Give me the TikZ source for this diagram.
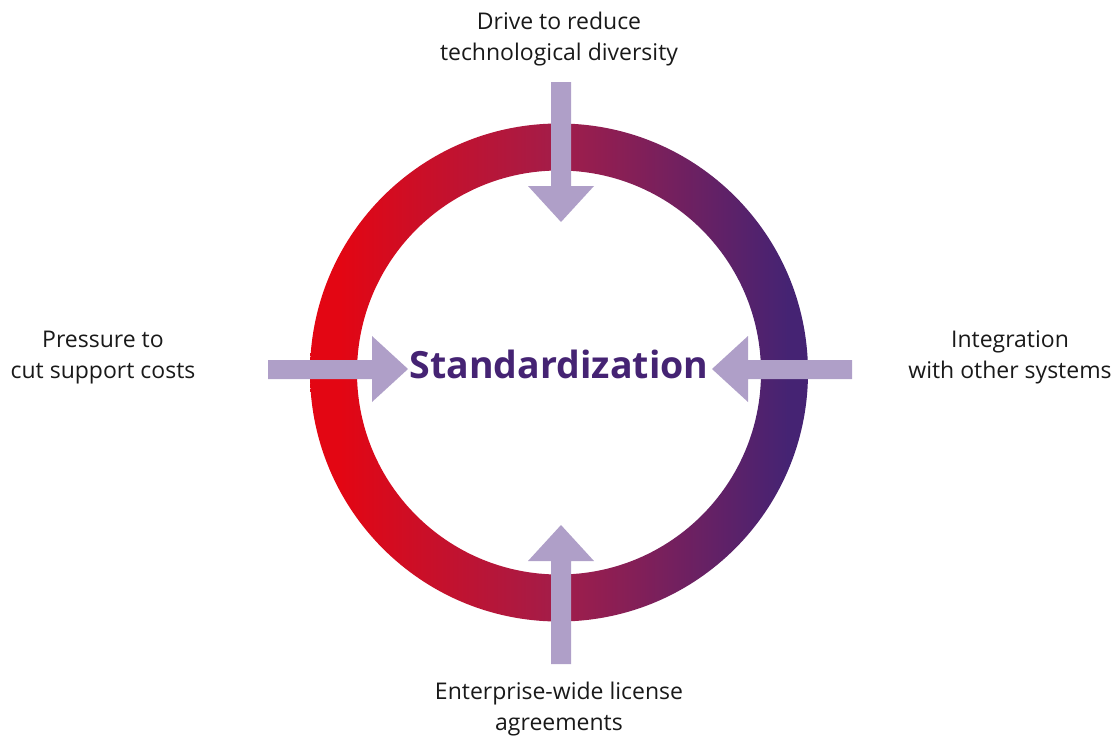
\documentclass[tikz,border=0pt]{standalone}
\usepackage{fontspec}
\setmainfont{Open Sans}
\definecolor{ringred}{HTML}{E30613}
\definecolor{ringmid}{HTML}{A21D4A}
\definecolor{ringpurple}{HTML}{452373}
\definecolor{arrowlilac}{HTML}{AF9FC8}
\definecolor{titlepurple}{HTML}{452373}
\pgfdeclarehorizontalshading{ringshade}{100bp}{
  color(0bp)=(ringred); color(25bp)=(ringred); color(28bp)=(ringred);
  color(50bp)=(ringmid); color(73bp)=(ringpurple); color(75bp)=(ringpurple);
  color(100bp)=(ringpurple)}
\tikzset{
  label/.style={align=center, anchor=base, inner sep=0pt, font=\fontsize{23}{31}\selectfont, text=black!90},
  force/.style={fill=arrowlilac, draw=none},
}
\begin{document}
\begin{tikzpicture}[x=1pt,y=-1pt]
\useasboundingbox (0,0) rectangle (1118,737);
\coordinate (c) at (559,372.5);
% ring
\path[shading=ringshade, even odd rule]
  (c) circle[radius=249] (c) circle[radius=202];
% arrows
\fill[force] (551,82) -- (571,82) -- (571,186) -- (594,186) -- (561,222) -- (528,186) -- (551,186) -- cycle;
\fill[force] (551,664) -- (571,664) -- (571,561) -- (594,561) -- (561,525) -- (528,561) -- (551,561) -- cycle;
\fill[force] (268,360) -- (372,360) -- (372,336) -- (408,369) -- (372,402) -- (372,379) -- (268,379) -- cycle;
\fill[force] (852,360) -- (748,360) -- (748,336) -- (712,369) -- (748,402) -- (748,379) -- (852,379) -- cycle;
% texts
\node[anchor=base, inner sep=0pt, font=\fontsize{37.5}{40}\bfseries, text=titlepurple] (title) at (559,378) {Standardization};
\node[label] (top) at (559,60) {Drive to reduce\\technological diversity};
\node[label] (left) at (103,378) {Pressure to\\cut support costs};
\node[label] (right) at (1010,378) {Integration\\with other systems};
\node[label] (bottom) at (559,730) {Enterprise-wide license\\agreements};
\end{tikzpicture}
\end{document}
